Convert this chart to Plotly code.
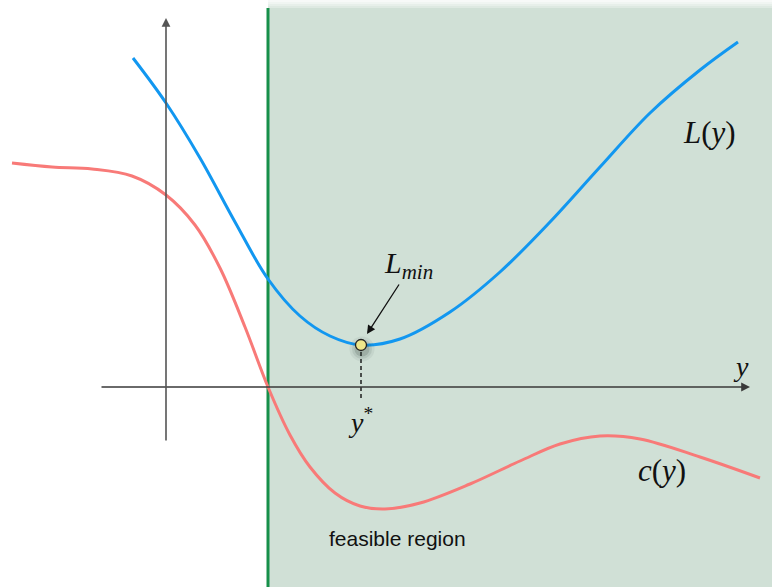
import plotly.graph_objects as go

# Objective L(y) sampled along y (axis units: origin at the axes crossing)
l_y = [-0.33, 0.0, 0.34, 0.69, 1.02, 1.34, 1.64, 1.95, 2.34, 2.84, 3.34, 3.84, 4.34, 4.84, 5.34, 5.72]
l_val = [3.29, 2.84, 2.29, 1.65, 1.08, 0.71, 0.51, 0.42, 0.48, 0.75, 1.15, 1.65, 2.20, 2.74, 3.17, 3.45]

# Constraint c(y)
c_y = [-1.54, -1.14, -0.74, -0.34, 0.0, 0.29, 0.54, 0.79, 1.02, 1.24, 1.44, 1.69, 1.94,
       2.19, 2.54, 3.04, 3.54, 3.94, 4.34, 4.74, 5.34, 5.94]
c_val = [2.24, 2.20, 2.18, 2.11, 1.92, 1.62, 1.19, 0.60, 0.0, -0.48, -0.80, -1.06, -1.19,
         -1.22, -1.16, -0.97, -0.74, -0.57, -0.49, -0.52, -0.70, -0.91]

# Boundary of the feasible region (c(y) = 0) and the constrained minimum
y_bound = 1.02
y_star, l_min = 1.95, 0.42

X_RANGE = [-1.66, 6.06]
Y_RANGE = [-2.0, 3.87]

BLUE = "#1297f0"
RED = "#f87a78"
GREEN = "#17904a"
FILL = "#d0e0d6"
SERIF = "Liberation Serif"
INK = "#111111"

fig = go.Figure()

# feasible region shading, with a soft upper edge
top = 3.79
fig.add_shape(type="rect", x0=y_bound, x1=X_RANGE[1], y0=Y_RANGE[0], y1=top,
              fillcolor=FILL, line_width=0, layer="below")
for i, op in enumerate([0.7, 0.5, 0.32, 0.18]):
    fig.add_shape(type="rect", x0=y_bound, x1=X_RANGE[1],
                  y0=top + i * 0.02, y1=top + (i + 1) * 0.02,
                  fillcolor=FILL, opacity=op, line_width=0, layer="below")
fig.add_shape(type="line", x0=y_bound, x1=y_bound, y0=Y_RANGE[0], y1=top,
              line=dict(color=GREEN, width=3), layer="below")

# coordinate axes
fig.add_annotation(x=5.84, y=0, ax=-0.66, ay=0, xref="x", yref="y", axref="x", ayref="y",
                   showarrow=True, arrowhead=2, arrowsize=1.1, arrowwidth=1.6,
                   arrowcolor="#3a3a3a", text="")
fig.add_annotation(x=0, y=3.69, ax=0, ay=-0.55, xref="x", yref="y", axref="x", ayref="y",
                   showarrow=True, arrowhead=2, arrowsize=1.1, arrowwidth=1.6,
                   arrowcolor="#555555", text="")

# curves
fig.add_trace(go.Scatter(x=c_y, y=c_val, mode="lines",
                         line=dict(color=RED, width=3, shape="spline", smoothing=1.0),
                         hoverinfo="skip", showlegend=False))
fig.add_trace(go.Scatter(x=l_y, y=l_val, mode="lines",
                         line=dict(color=BLUE, width=3, shape="spline", smoothing=1.0),
                         hoverinfo="skip", showlegend=False))

# drop line from the minimum to the axis
fig.add_trace(go.Scatter(x=[y_star, y_star], y=[l_min, -0.13], mode="lines",
                         line=dict(color=INK, width=1.4, dash="4px,3px"),
                         hoverinfo="skip", showlegend=False))

# soft shadow and the minimum marker
for s, op in [(25, 0.06), (20, 0.10), (15, 0.16)]:
    fig.add_trace(go.Scatter(x=[y_star + 0.01], y=[l_min - 0.04], mode="markers",
                             marker=dict(size=s, color="#2a3a30", opacity=op, line_width=0),
                             hoverinfo="skip", showlegend=False))
fig.add_trace(go.Scatter(x=[y_star], y=[l_min], mode="markers",
                         marker=dict(size=11, color="#eee68a", line=dict(color="#222222", width=1.3)),
                         hoverinfo="skip", showlegend=False))

# labels
fig.add_annotation(x=2.01, y=0.53, ax=2.34, ay=1.04, xref="x", yref="y", axref="x", ayref="y",
                   showarrow=True, arrowhead=2, arrowsize=1.3, arrowwidth=1.3,
                   arrowcolor=INK, text="")
fig.add_annotation(x=2.42, y=1.22, text="<i>L</i><sub><i>min</i></sub>", showarrow=False,
                   font=dict(family=SERIF, size=30, color=INK))
fig.add_annotation(x=y_star - 0.01, y=-0.33, text="<i>y</i><sup>*</sup>", showarrow=False,
                   font=dict(family=SERIF, size=28, color=INK))
fig.add_annotation(x=5.43, y=2.55, text="<i>L</i>(<i>y</i>)", showarrow=False,
                   font=dict(family=SERIF, size=31, color=INK))
fig.add_annotation(x=4.96, y=-0.83, text="<i>c</i>(<i>y</i>)", showarrow=False,
                   font=dict(family=SERIF, size=31, color=INK))
fig.add_annotation(x=5.75, y=0.21, text="<i>y</i>", showarrow=False,
                   font=dict(family=SERIF, size=28, color=INK))
fig.add_annotation(x=2.31, y=-1.51, text="feasible region", showarrow=False,
                   font=dict(family="Liberation Sans", size=21, color=INK))

fig.update_layout(
    width=772, height=587,
    margin=dict(l=0, r=0, t=0, b=0),
    paper_bgcolor="white", plot_bgcolor="white",
    xaxis=dict(range=X_RANGE, visible=False, fixedrange=True),
    yaxis=dict(range=Y_RANGE, visible=False, fixedrange=True),
)

fig.write_html("out.html")
